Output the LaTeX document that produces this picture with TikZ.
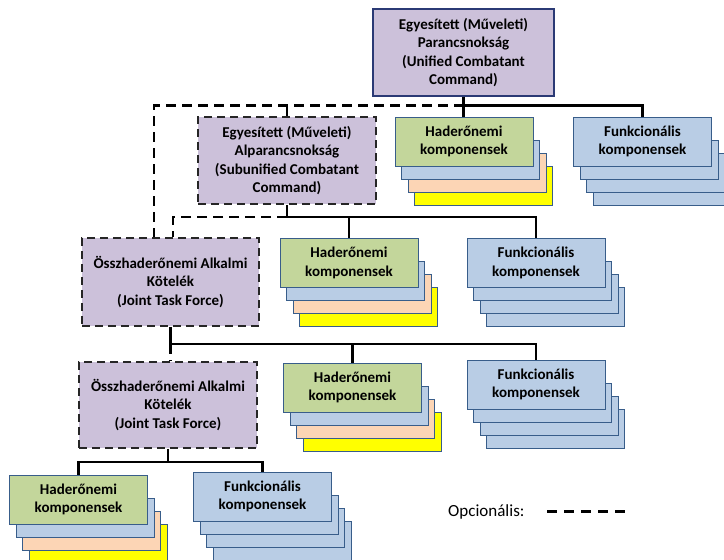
\documentclass[tikz,border=0pt]{standalone}
\usepackage{fontspec}
\setmainfont{Carlito}
\definecolor{lav}{HTML}{CCC1DA}
\definecolor{grn}{HTML}{C3D69B}
\definecolor{blu}{HTML}{B9CDE5}
\definecolor{pch}{HTML}{FCD5B5}
\definecolor{ylw}{HTML}{FFFF00}
\definecolor{nav}{HTML}{385D8A}
\definecolor{navdark}{HTML}{2B3A75}
\definecolor{dk}{HTML}{262626}
\newcommand{\stackbox}[8]{%
  \node[backbox, fill=#7] (#1-3) at ({#2+19.8},{#3+44}) {};
  \node[backbox, fill=#6] (#1-2) at ({#2+13.2},{#3+31}) {};
  \node[backbox, fill=#5] (#1-1) at ({#2+6.6},{#3+18}) {};
  \node[compbox, fill=#4] (#1) at (#2,#3) {#8};
}
\begin{document}
\begin{tikzpicture}[x=1pt,y=-1pt,
  lbl/.style={font=\bfseries\fontsize{15}{18.5}\selectfont, align=center, text=black},
  compbox/.style={lbl, draw=nav, line width=0.9pt, minimum width=138pt, minimum height=49pt, inner sep=0pt},
  backbox/.style={draw=nav, line width=0.9pt, minimum width=138pt, minimum height=39pt, inner sep=0pt},
  cmdbox/.style={lbl, fill=lav, minimum width=178pt, minimum height=87pt, inner sep=0pt},
  optbox/.style={cmdbox, draw=dk, line width=1.8pt, dash pattern=on 8pt off 5pt},
  conn/.style={draw=black, line width=2.5pt},
  dsh/.style={draw=black, line width=2.4pt, dash pattern=on 10pt off 6pt},
  legdash/.style={draw=black, line width=3pt, dash pattern=on 10pt off 7pt}
]
\useasboundingbox (0,0) rectangle (724,560);
\fill[white] (0,0) rectangle (724,560);

% command boxes
\node[cmdbox, draw=navdark, line width=1.6pt, minimum width=181pt] (ucc) at (463.5,52.5)
  {Egyesített (Műveleti)\\Parancsnokság\\(Unified Combatant\\Command)};
\node[optbox] (succ) at (287,160.5)
  {Egyesített (Műveleti)\\Alparancsnokság\\(Subunified Combatant\\Command)};
\node[optbox, minimum width=177pt, minimum height=88pt] (jtf1) at (170.5,282)
  {Összhaderőnemi Alkalmi\\Kötelék\\(Joint Task Force)};
\node[optbox, minimum height=86pt] (jtf2) at (168,405)
  {Összhaderőnemi Alkalmi\\Kötelék\\(Joint Task Force)};

% component stacks
\stackbox{h1}{464}{141.5}{grn}{blu}{pch}{ylw}{Haderőnemi\\komponensek}
\stackbox{f1}{642.5}{141.5}{blu}{blu}{blu}{blu}{Funkcionális\\komponensek}
\stackbox{h2}{349}{263}{grn}{blu}{pch}{ylw}{Haderőnemi\\komponensek}
\stackbox{f2}{536}{263}{blu}{blu}{blu}{blu}{Funkcionális\\komponensek}
\stackbox{h3}{352.5}{387.5}{grn}{blu}{pch}{ylw}{Haderőnemi\\komponensek}
\stackbox{f3}{536}{384.5}{blu}{blu}{blu}{blu}{Funkcionális\\komponensek}
\stackbox{h4}{78.5}{499.5}{grn}{blu}{pch}{ylw}{Haderőnemi\\komponensek}
\stackbox{f4}{262.5}{496.5}{blu}{blu}{blu}{blu}{Funkcionális\\komponensek}

% junction levels
\coordinate (r1) at (0,105.5);
\coordinate (d1) at (154,105.5);
\coordinate (r2) at (0,217);
\coordinate (d2) at (173,217);
\coordinate (r3) at (0,344);
\coordinate (r4) at (0,462);

% optional (dashed) links
\draw[dsh] (ucc.south |- r1) -- (d1) -- (d1 |- jtf1.north);
\draw[dsh] (succ.north |- r1) -- (succ.north);
\draw[dsh] (succ.south |- r2) -- (d2) -- (d2 |- jtf1.north);
\draw[dsh] (jtf1.south |- r3) -- (jtf1.south |- jtf2.north);

% solid links
\draw[conn] (ucc.south) -- (ucc.south |- h1.north);
\draw[conn] (ucc.south |- r1) -- (f1.north |- r1) -- (f1.north);
\draw[conn] (succ.south) -- (succ.south |- r2) -- (f2.north |- r2) -- (f2.north);
\draw[conn] (h2.north |- r2) -- (h2.north);
\draw[conn] (jtf1.south) -- (jtf1.south |- r3) -- (f3.north |- r3) -- (f3.north);
\draw[conn] (h3.north |- r3) -- (h3.north);
\draw[conn] (jtf2.south) -- (jtf2.south |- r4);
\draw[conn] (h4.north) -- (h4.north |- r4) -- (f4.north |- r4) -- (f4.north);

% legend
\node[anchor=base west, inner sep=0pt, font=\fontsize{17}{20}\selectfont] (opt) at (448,516) {Opcionális:};
\coordinate (la) at (547,511);
\coordinate (lb) at (627,511);
\draw[legdash] (la) -- (lb);
\end{tikzpicture}
\end{document}
